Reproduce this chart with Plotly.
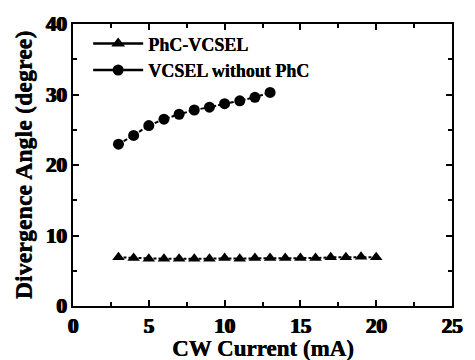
import plotly.graph_objects as go

current_phc = [3, 4, 5, 6, 7, 8, 9, 10, 11, 12, 13, 14, 15, 16, 17, 18, 19, 20]
angle_phc = [6.9, 6.8, 6.7, 6.7, 6.7, 6.7, 6.7, 6.8, 6.7, 6.8, 6.8, 6.8, 6.8, 6.8, 6.9, 6.9, 7.0, 6.9]
current_ref = [3, 4, 5, 6, 7, 8, 9, 10, 11, 12, 13]
angle_ref = [22.95, 24.2, 25.6, 26.5, 27.2, 27.8, 28.2, 28.7, 29.1, 29.6, 30.3]
name_phc = "PhC-VCSEL"
name_ref = "VCSEL without PhC"
x_ticks = [0, 5, 10, 15, 20, 25]
y_ticks = [0, 10, 20, 30, 40]
x_title = "CW Current (mA)"
y_title = "Divergence Angle (degree)"

FONT = "Liberation Serif"
HEAVY = "1px 0 0 black, 0.5px 0 0 black, -0.5px 0 0 black"
fig = go.Figure()
fig.add_trace(go.Scatter(x=current_phc, y=angle_phc, mode="lines+markers", showlegend=False,
                         line=dict(color="black", width=2, dash="3px,2px"),
                         marker=dict(symbol="triangle-up", size=11, color="black")))
fig.add_trace(go.Scatter(x=current_ref, y=angle_ref, mode="lines+markers", showlegend=False,
                         line=dict(color="black", width=2, dash="4px,2px"),
                         marker=dict(symbol="circle", size=11, color="black")))
fig.add_trace(go.Scatter(x=[None], y=[None], mode="lines+markers", name=name_phc,
                         line=dict(color="black", width=2.5),
                         marker=dict(symbol="triangle-up", size=12, color="black")))
fig.add_trace(go.Scatter(x=[None], y=[None], mode="lines+markers", name=name_ref,
                         line=dict(color="black", width=2.5),
                         marker=dict(symbol="circle", size=11, color="black")))

axis_common = dict(showline=True, linecolor="black", linewidth=2, mirror="allticks",
                   ticks="inside", ticklen=6, tickwidth=1.5, tickcolor="black",
                   showgrid=False, zeroline=False,
                   tickfont=dict(family=FONT, size=21, color="black", weight="bold", shadow=HEAVY),
                   minor=dict(ticks="inside", ticklen=4, tickwidth=1.5, tickcolor="black", showgrid=False))

fig.update_layout(
    width=475, height=360,
    margin=dict(l=73, r=12, t=20, b=54),
    paper_bgcolor="white", plot_bgcolor="white",
    font=dict(family=FONT, color="black"),
    xaxis=dict(range=[0, 25], tickvals=x_ticks, ticktext=[str(v) for v in x_ticks],
               **axis_common),
    yaxis=dict(range=[0, 40], tickvals=y_ticks, ticktext=[str(v) for v in y_ticks],
               **axis_common),
    legend=dict(x=0.04, y=0.995, xanchor="left", yanchor="top", bgcolor="rgba(0,0,0,0)",
                font=dict(family=FONT, size=18, weight="bold", shadow="0.4px 0 0 black"),
                itemwidth=50, tracegroupgap=0),
    annotations=[
        dict(text=x_title, xref="paper", yref="paper", x=0.5, y=-0.152,
             xanchor="center", yanchor="middle", showarrow=False,
             font=dict(family=FONT, size=23, color="black", weight="bold", shadow="0.4px 0 0 black")),
        dict(text=y_title, xref="paper", yref="paper", x=-0.131, y=0.5,
             xanchor="center", yanchor="middle", showarrow=False, textangle=-90,
             font=dict(family=FONT, size=24, color="black", weight="bold", shadow="0 0.4px 0 black")),
    ],
)
fig.update_xaxes(minor=dict(tickvals=[2.5, 7.5, 12.5, 17.5, 22.5]))
fig.update_yaxes(minor=dict(tickvals=[5, 15, 25, 35]))
fig.write_html("out.html", config={"displayModeBar": False},
               post_script="document.body.style.margin='0';")
